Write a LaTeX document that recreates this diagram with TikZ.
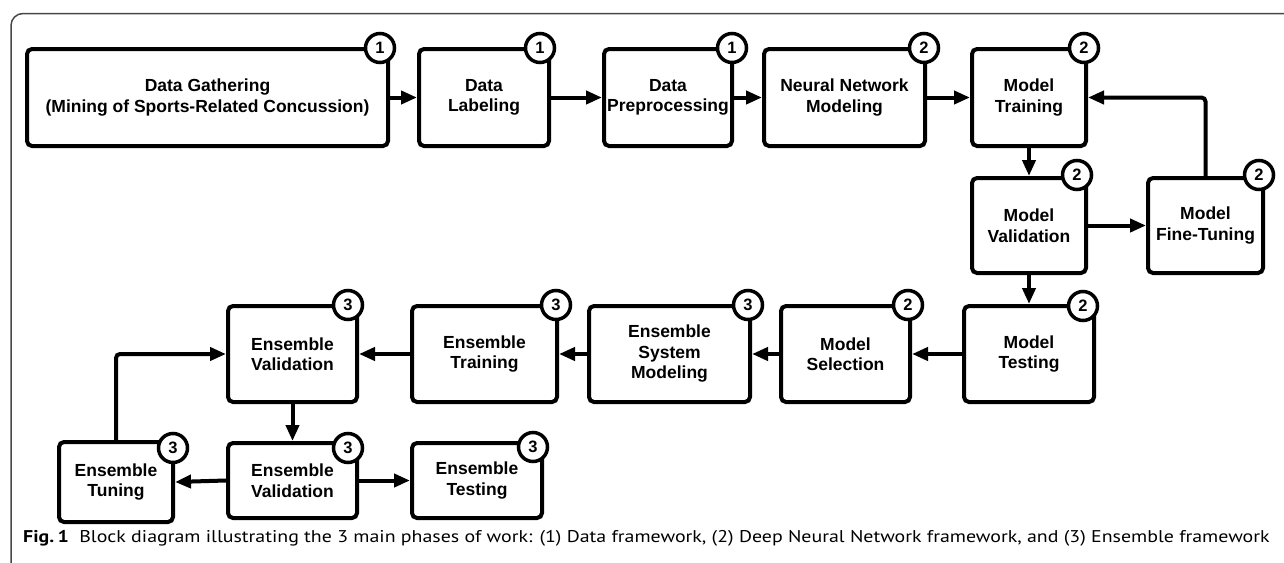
\documentclass[tikz,border=0pt]{standalone}
\usepackage{fontspec}
\setmainfont{Liberation Sans}
\newfontfamily\capfont{PT Sans}
\usetikzlibrary{arrows.meta}
\begin{document}
\begin{tikzpicture}[x=1pt,y=-1pt,
  blk/.style={draw, line width=4pt, rounded corners=5pt, fill=white, align=center,
    font=\fontsize{17.5}{20.5}\selectfont\bfseries, inner sep=0pt},
  num/.style={draw, circle, line width=3.5pt, fill=white, minimum size=29pt,
    inner sep=0pt, font=\fontsize{16.5}{16.5}\selectfont\bfseries},
  arr/.style={line width=4pt, -{Triangle[length=16pt,width=13pt]}},
  frame/.style={line width=1.5pt, black!72, rounded corners=12pt},
]
\clip (0,0) rectangle (1284,562);
\fill[white] (0,0) rectangle (1284,562);
\draw[frame] (11,600) -- (11,13.5) -- (1320,13.5);

% Row 1
\node[blk, minimum width=361pt, minimum height=97pt] (gath) at (207.5,97.5) {Data Gathering\\(Mining of Sports-Related Concussion)};
\node[blk, minimum width=130pt, minimum height=97pt] (lab) at (484,97.5) {Data\\Labeling};
\node[blk, minimum width=128pt, minimum height=97pt] (pre) at (668,97.5) {Data\\Preprocessing};
\node[blk, minimum width=161pt, minimum height=97pt] (nnm) at (844.5,97.5) {Neural Network\\Modeling};
\node[blk, minimum width=114pt, minimum height=97pt] (trn) at (1029,97.5) {Model\\Training};
% Row 2
\node[blk, minimum width=114pt, minimum height=95pt] (val) at (1029,225.5) {Model\\Validation};
\node[blk, minimum width=115pt, minimum height=95pt] (fine) at (1205.5,225.5) {Model\\Fine-Tuning};
% Row 3
\node[blk, minimum width=130pt, minimum height=96pt] (test) at (1029,354) {Model\\Testing};
\node[blk, minimum width=129pt, minimum height=96pt] (sel) at (845.5,354) {Model\\Selection};
\node[blk, minimum width=161pt, minimum height=96pt] (esm) at (669.5,354) {Ensemble\\System\\Modeling};
\node[blk, minimum width=145pt, minimum height=96pt] (etr) at (484.5,354) {Ensemble\\Training};
\node[blk, minimum width=129pt, minimum height=96pt] (evu) at (292.5,354) {Ensemble\\Validation};
% Row 4
\node[blk, minimum width=114pt, minimum height=80pt] (tun) at (116,482) {Ensemble\\Tuning};
\node[blk, minimum width=129pt, minimum height=75pt] (evl) at (292.5,480.5) {Ensemble\\Validation};
\node[blk, minimum width=130pt, minimum height=75pt] (tst) at (477,480.5) {Ensemble\\Testing};

% Phase markers
\node[num] (gathn) at (380,48) {1};
\node[num] (labn) at (540,48) {1};
\node[num] (pren) at (732,48) {1};
\node[num] (nnmn) at (924,48) {2};
\node[num] (trnn) at (1084,48) {2};
\node[num] (valn) at (1077,175) {2};
\node[num] (finen) at (1259,175) {2};
\node[num] (testn) at (1083,306) {2};
\node[num] (seln) at (908,305) {2};
\node[num] (esmn) at (748,305) {3};
\node[num] (etrn) at (556,305) {3};
\node[num] (evun) at (348,305) {3};
\node[num] (tunn) at (173,448) {3};
\node[num] (evln) at (348,448) {3};
\node[num] (tstn) at (533,447) {3};

% Connectors
\draw[arr] (gath.east) -- (lab.west);
\draw[arr] (lab.east) -- (pre.west);
\draw[arr] (pre.east) -- (nnm.west);
\draw[arr] (nnm.east) -- (trn.west);
\draw[arr] (trn.south) -- (val.north);
\draw[arr] (val.east) -- (fine.west);
\draw[arr, rounded corners=4pt] (fine.north) |- (trn.east);
\draw[arr] (val.south) -- (test.north);
\draw[arr] (test.west) -- (sel.east);
\draw[arr] (sel.west) -- (esm.east);
\draw[arr] (esm.west) -- (etr.east);
\draw[arr] (etr.west) -- (evu.east);
\draw[arr] (evu.south) -- (evl.north);
\draw[arr] (evl.west) -- (tun.east);
\draw[arr] (evl.east) -- (tst.west);
\draw[arr, rounded corners=4pt] (tun.north) |- (evu.west);

% Caption
\node[anchor=base west, inner sep=0pt] (cap) at (23,542)
  {\scalebox{1.17}[1]{\capfont\fontsize{17}{17}\selectfont\textbf{Fig.\,1}\hspace{9pt}Block diagram illustrating the 3 main phases of work: (1) Data framework, (2) Deep Neural Network framework, and (3) Ensemble framework}};
\end{tikzpicture}
\end{document}
